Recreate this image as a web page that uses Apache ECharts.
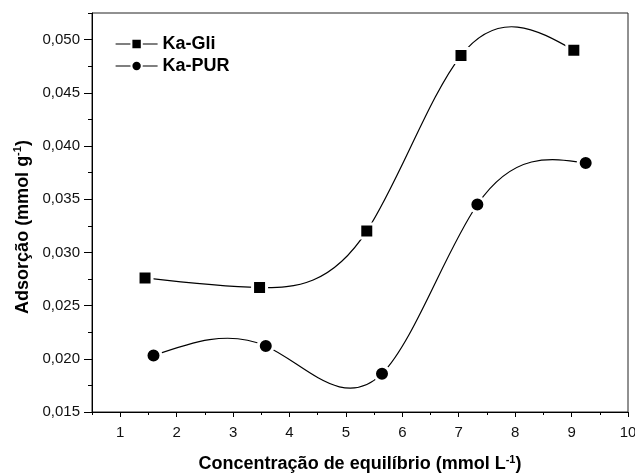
<!DOCTYPE html>
<html>
<head>
<meta charset="utf-8">
<script src="https://cdn.jsdelivr.net/npm/echarts@6/dist/echarts.min.js"></script>
<style>html,body{margin:0;padding:0;background:#fff}#c{width:635px;height:473px}</style>
</head>
<body>
<div id="c"></div>
<script>
var seriesNames = ['Ka-Gli', 'Ka-PUR'];
var xGli = [1.44, 3.47, 5.37, 7.04, 9.04];
var yGli = [0.0276, 0.0267, 0.0320, 0.0485, 0.0490];
var xPur = [1.59, 3.58, 5.64, 7.33, 9.25];
var yPur = [0.0203, 0.0212, 0.0186, 0.0345, 0.0384];
var xMajorTicks = [1, 2, 3, 4, 5, 6, 7, 8, 9, 10];
var xMinorTicks = [0.5, 1.5, 2.5, 3.5, 4.5, 5.5, 6.5, 7.5, 8.5, 9.5];
var yMajorTicks = [0.015, 0.020, 0.025, 0.030, 0.035, 0.040, 0.045, 0.050];
var yMinorTicks = [0.0175, 0.0225, 0.0275, 0.0325, 0.0375, 0.0425, 0.0475, 0.0525];

function pairs(xs, ys) { return xs.map(function (x, i) { return [x, ys[i]]; }); }

// Natural cubic spline slopes at the data points (used only to shape the connecting curve,
// like the "spline" connection of the original plotting program).
function splineSlopes(xs, ys) {
  var n = xs.length, h = [], d = [], i;
  for (i = 0; i < n - 1; i++) { h.push(xs[i + 1] - xs[i]); d.push((ys[i + 1] - ys[i]) / h[i]); }
  var a = [], b = [], c = [], r = [];
  for (i = 1; i < n - 1; i++) {
    a.push(h[i - 1]); b.push(2 * (h[i - 1] + h[i])); c.push(h[i]); r.push(6 * (d[i] - d[i - 1]));
  }
  var m = r.length;
  for (i = 1; i < m; i++) {
    var w = a[i] / b[i - 1];
    b[i] -= w * c[i - 1]; r[i] -= w * r[i - 1];
  }
  var M = new Array(n).fill(0);
  for (i = m - 1; i >= 0; i--) {
    M[i + 1] = (r[i] - (i < m - 1 ? c[i] * M[i + 2] : 0)) / b[i];
  }
  var s = [];
  for (i = 0; i < n - 1; i++) s.push(d[i] - h[i] * (2 * M[i] + M[i + 1]) / 6);
  s.push(d[n - 2] + h[n - 2] * (M[n - 2] + 2 * M[n - 1]) / 6);
  return s;
}

function curveSeries(name, xs, ys) {
  var slopes = splineSlopes(xs, ys);
  return {
    name: name, type: 'custom', data: pairs(xs, ys), z: 1, silent: true,
    encode: { x: 0, y: 1 },
    renderItem: function (params, api) {
      var i = params.dataIndex;
      if (i >= xs.length - 1) return null;
      var h = xs[i + 1] - xs[i];
      var p0 = api.coord([xs[i], ys[i]]);
      var p1 = api.coord([xs[i + 1], ys[i + 1]]);
      var c0 = api.coord([xs[i] + h / 3, ys[i] + slopes[i] * h / 3]);
      var c1 = api.coord([xs[i + 1] - h / 3, ys[i + 1] - slopes[i + 1] * h / 3]);
      return {
        type: 'bezierCurve',
        shape: { x1: p0[0], y1: p0[1], x2: p1[0], y2: p1[1], cpx1: c0[0], cpy1: c0[1], cpx2: c1[0], cpy2: c1[1] },
        style: { stroke: '#000', lineWidth: 1.2, fill: null }
      };
    }
  };
}

var FONT = 'Liberation Sans, Arial, sans-serif';
var chart = echarts.init(document.getElementById('c'), null, { renderer: 'canvas' });
var axisLineStyle = { color: '#000', width: 1 };
var supStyle = { fontFamily: FONT, fontSize: 11, fontWeight: 'bold', color: '#000', padding: [0, 0, 10, 0] };

chart.setOption({
  animation: false,
  backgroundColor: '#fff',
  grid: { left: 92, right: 7, top: 13, bottom: 61, show: true, borderColor: '#222', borderWidth: 1,
    backgroundColor: 'transparent', containLabel: false, outerBoundsMode: 'none' },
  legend: {
    orient: 'vertical', left: 115, top: 35, padding: 0, itemWidth: 42, itemHeight: 13, itemGap: 4,
    textStyle: { fontFamily: FONT, fontSize: 18, fontWeight: 'bold', color: '#000', lineHeight: 18 },
    lineStyle: { color: '#000', width: 1.2, opacity: 1 },
    itemStyle: { color: '#000', borderColor: '#fff', borderWidth: 2 },
    data: seriesNames
  },
  xAxis: [{
    type: 'value', min: 0.5, max: 10, position: 'bottom',
    name: 'Concentração de equilíbrio (mmol L{sup|-1})', nameLocation: 'middle', nameGap: 42,
    nameTextStyle: { fontFamily: FONT, fontSize: 18, fontWeight: 'bold', color: '#000', rich: { sup: supStyle } },
    axisLine: { show: true, lineStyle: axisLineStyle },
    axisTick: { show: true, length: 5, inside: false, customValues: xMajorTicks, lineStyle: axisLineStyle },
    axisLabel: { show: true, customValues: xMajorTicks, margin: 13, fontFamily: FONT, fontSize: 15, color: '#111' },
    splitLine: { show: false }
  }, {
    type: 'value', min: 0.5, max: 10, position: 'bottom',
    axisLine: { show: false },
    axisTick: { show: true, length: 3, customValues: xMinorTicks, lineStyle: axisLineStyle },
    axisLabel: { show: false },
    splitLine: { show: false }
  }],
  yAxis: [{
    type: 'value', min: 0.015, max: 0.0525, position: 'left',
    name: 'Adsorção (mmol g{sup|-1})', nameLocation: 'middle', nameGap: 57,
    nameTextStyle: { fontFamily: FONT, fontSize: 18, fontWeight: 'bold', color: '#000', padding: [0, 29, 0, 0], rich: { sup: supStyle } },
    axisLine: { show: true, lineStyle: axisLineStyle },
    axisTick: { show: true, length: 8, customValues: yMajorTicks, lineStyle: axisLineStyle },
    axisLabel: { show: true, customValues: yMajorTicks, margin: 12, fontFamily: FONT, fontSize: 15, color: '#111',
      formatter: function (v) { return v.toFixed(3).replace('.', ','); } },
    splitLine: { show: false }
  }, {
    type: 'value', min: 0.015, max: 0.0525, position: 'left',
    axisLine: { show: false },
    axisTick: { show: true, length: 4, customValues: yMinorTicks, lineStyle: axisLineStyle },
    axisLabel: { show: false },
    splitLine: { show: false }
  }],
  series: [
    curveSeries('Ka-Gli curve', xGli, yGli),
    curveSeries('Ka-PUR curve', xPur, yPur),
    {
      name: seriesNames[0], type: 'line', data: pairs(xGli, yGli), z: 3,
      symbol: 'rect', symbolSize: 14, showAllSymbol: true,
      lineStyle: { color: '#000', width: 1.2, opacity: 0 },
      itemStyle: { color: '#000', borderColor: '#fff', borderWidth: 3 }
    }, {
      name: seriesNames[1], type: 'line', data: pairs(xPur, yPur), z: 3,
      symbol: 'circle', symbolSize: 15, showAllSymbol: true,
      lineStyle: { color: '#000', width: 1.2, opacity: 0 },
      itemStyle: { color: '#000', borderColor: '#fff', borderWidth: 3 }
    }
  ]
});
</script>
</body>
</html>
